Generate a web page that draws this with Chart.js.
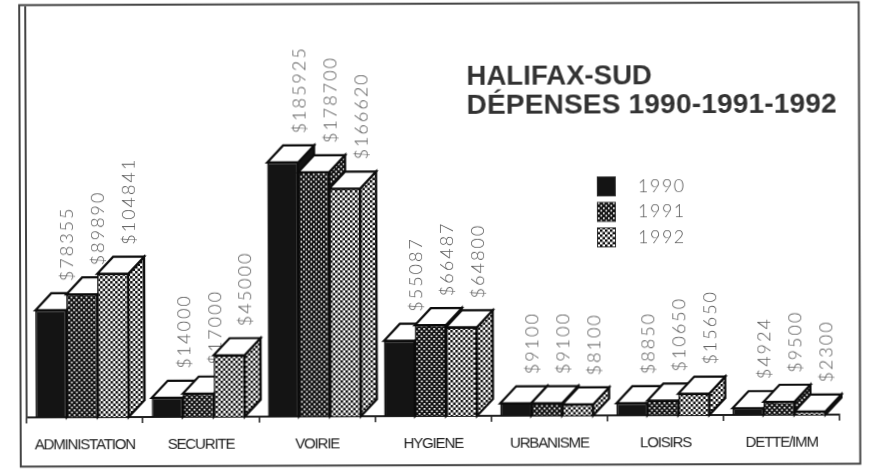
<!DOCTYPE html>
<html lang="fr">
<head>
<meta charset="utf-8">
<title>Halifax-Sud</title>
<script src="https://cdn.jsdelivr.net/npm/chart.js@4"></script>
<style>
html,body{margin:0;padding:0;background:#fff;overflow:hidden}
canvas{display:block;transform:rotate(-0.2deg);filter:blur(0.7px)}
</style>
</head>
<body>
<canvas id="c" width="869" height="471"></canvas>
<script>
const categories = ["ADMINISTATION","SECURITE","VOIRIE","HYGIENE","URBANISME","LOISIRS","DETTE/IMM"];
const years = ["1990","1991","1992"];
const values1990 = [78355,14000,185925,55087,9100,8850,4924];
const values1991 = [89890,17000,178700,66487,9100,10650,9500];
const values1992 = [104841,45000,166620,64800,8100,15650,2300];
const titleLines = ["HALIFAX-SUD","DÉPENSES 1990-1991-1992"];

const DEPTH_X = 16, DEPTH_Y = 17, GROUP_SHIFT = 2.5;
const INK = "#141414";

function tile(draw){
  const t = document.createElement("canvas");
  t.width = 5; t.height = 5;
  draw(t.getContext("2d"));
  return t.getContext("2d").createPattern(t,"repeat");
}
const ctxMain = document.getElementById("c").getContext("2d");
const fillSolid = INK;
const fillDots = tile(g=>{
  g.fillStyle = "#111"; g.fillRect(0,0,5,5);
  g.fillStyle = "#fff"; g.fillRect(0.5,0.5,1.7,1.7); g.fillRect(3,3,1.7,1.7);
});
const fillCheck = tile(g=>{
  g.fillStyle = "#fff"; g.fillRect(0,0,5,5);
  g.fillStyle = "#111"; g.fillRect(0,0,2.5,2.5); g.fillRect(2.5,2.5,2.5,2.5);
});
const fills = [fillSolid,fillDots,fillCheck];

const page = {
  id:"page",
  beforeDraw(chart){
    const g = chart.ctx;
    g.save();
    g.fillStyle = "#fff";
    g.fillRect(0,0,chart.width,chart.height);
    g.strokeStyle = "#444"; g.lineWidth = 2;
    g.strokeRect(20,3.7,839.5,461.5);
    g.restore();
    g.letterSpacing = "-1.15px";
  },
  afterUpdate(chart){
    chart.getSortedVisibleDatasetMetas().forEach(m=>m.data.forEach(b=>{b.x -= GROUP_SHIFT;}));
  },
  beforeDatasetsDraw(chart){
    const g = chart.ctx;
    const metas = chart.getSortedVisibleDatasetMetas();
    g.save();
    g.letterSpacing = "2px";
    g.font = "300 18px Lato, 'Liberation Sans'";
    g.fillStyle = "#5c5c5c";
    g.textAlign = "left"; g.textBaseline = "middle";
    metas.forEach((m,i)=>m.data.forEach((b,j)=>{
      g.save();
      g.translate(b.x+17, b.y-DEPTH_Y-12);
      g.rotate(-Math.PI/2);
      g.fillText("$"+chart.data.datasets[i].data[j], 0, 0);
      g.restore();
    }));
    g.restore();
    g.save();
    g.lineWidth = 2.2; g.strokeStyle = "#0c0c0c"; g.lineJoin = "miter";
    const base = chart.scales.y.getPixelForValue(0);
    categories.forEach((_,j)=>metas.forEach((m,i)=>{
      const b = m.data[j], l = b.x-b.width/2, r = b.x+b.width/2, t = b.y;
      g.fillStyle = fills[i];
      g.beginPath();
      g.moveTo(r,t); g.lineTo(r+DEPTH_X,t-DEPTH_Y); g.lineTo(r+DEPTH_X,base-DEPTH_Y); g.lineTo(r,base); g.closePath();
      g.fill(); g.stroke();
      g.fillStyle = "#fff";
      g.beginPath();
      g.moveTo(l,t); g.lineTo(l+DEPTH_X,t-DEPTH_Y); g.lineTo(r+DEPTH_X,t-DEPTH_Y); g.lineTo(r,t); g.closePath();
      g.fill(); g.stroke();
    }));
    g.restore();
  },
  afterDraw(chart){
    const g = chart.ctx;
    g.save();
    g.letterSpacing = "0px";
    g.font = "bold 27.6px 'Liberation Sans'";
    g.fillStyle = "#333";
    g.textAlign = "left"; g.textBaseline = "alphabetic";
    g.fillText(titleLines[0],467,85);
    g.font = "bold 28px 'Liberation Sans'";
    g.letterSpacing = "0.2px";
    g.fillText(titleLines[1],467,114);
    g.font = "300 18px Lato, 'Liberation Sans'";
    g.letterSpacing = "1.5px";
    years.forEach((y,i)=>{
      const top = 177.5+i*25.5;
      g.fillStyle = fills[i];
      g.fillRect(597.5,top,18,19);
      g.strokeStyle = "#333"; g.lineWidth = 1;
      g.strokeRect(597.5,top,18,19);
      g.fillStyle = "#5c5c5c";
      g.textBaseline = "middle";
      g.fillText(y,638,top+9.5);
    });
    g.restore();
  }
};

new Chart(ctxMain,{
  type:"bar",
  data:{
    labels:categories,
    datasets:[
      {label:years[0],data:values1990,backgroundColor:fills[0]},
      {label:years[1],data:values1991,backgroundColor:fills[1]},
      {label:years[2],data:values1992,backgroundColor:fills[2]}
    ].map(d=>Object.assign(d,{borderColor:"#0c0c0c",borderWidth:1.5,categoryPercentage:0.8,barPercentage:1}))
  },
  options:{
    responsive:false,
    animation:false,
    layout:{padding:{left:26,right:30,top:6,bottom:0}},
    plugins:{legend:{display:false},tooltip:{enabled:false}},
    scales:{
      x:{
        grid:{drawOnChartArea:false,color:"#222",tickLength:6,lineWidth:1.5},
        border:{color:"#222",width:2},
        ticks:{color:"#222",padding:13,maxRotation:0,autoSkip:false,font:{family:"'Liberation Sans'",size:15}},
        afterFit(s){s.height=55;}
      },
      y:{
        min:0,max:300000,
        grid:{display:false},
        border:{color:"#444",width:2},
        ticks:{display:false},
        afterFit(s){s.width=0;}
      }
    }
  },
  plugins:[page]
});
</script>
</body>
</html>
